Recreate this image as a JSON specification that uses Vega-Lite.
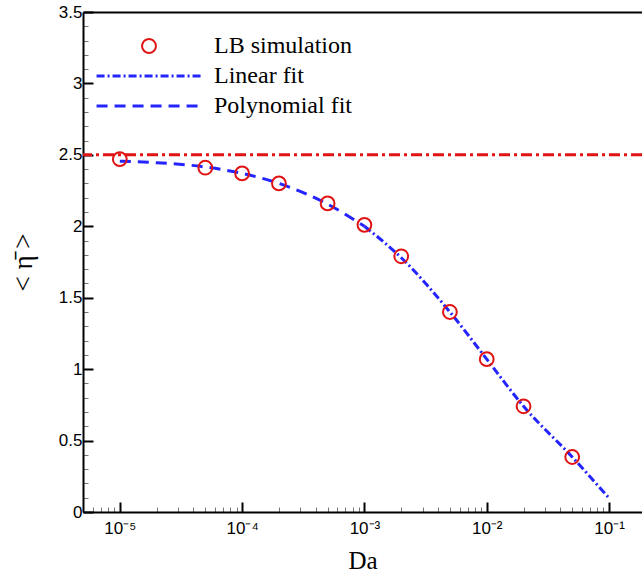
{
  "$schema": "https://vega.github.io/schema/vega-lite/v6.json",
  "autosize": {"type": "none"},
  "padding": {"left": 83, "top": 12, "right": 0, "bottom": 61},
  "width": 559,
  "height": 500,
  "background": "white",
  "config": {"view": {"stroke": null}},
  "datasets": {
    "obs": [
      {"Da": 0.00001, "eta": 2.47, "series": "LB simulation"},
      {"Da": 0.00005, "eta": 2.41, "series": "LB simulation"},
      {"Da": 0.0001, "eta": 2.37, "series": "LB simulation"},
      {"Da": 0.0002, "eta": 2.30, "series": "LB simulation"},
      {"Da": 0.0005, "eta": 2.16, "series": "LB simulation"},
      {"Da": 0.001, "eta": 2.01, "series": "LB simulation"},
      {"Da": 0.002, "eta": 1.79, "series": "LB simulation"},
      {"Da": 0.005, "eta": 1.40, "series": "LB simulation"},
      {"Da": 0.01, "eta": 1.07, "series": "LB simulation"},
      {"Da": 0.02, "eta": 0.74, "series": "LB simulation"},
      {"Da": 0.05, "eta": 0.385, "series": "LB simulation"}
    ],
    "fits": [
      {"Da": 0.00001, "eta": 2.455, "series": "Polynomial fit"},
      {"Da": 0.00002, "eta": 2.445, "series": "Polynomial fit"},
      {"Da": 0.00005, "eta": 2.415, "series": "Polynomial fit"},
      {"Da": 0.0001, "eta": 2.37, "series": "Polynomial fit"},
      {"Da": 0.0002, "eta": 2.30, "series": "Polynomial fit"},
      {"Da": 0.0005, "eta": 2.155, "series": "Polynomial fit"},
      {"Da": 0.001, "eta": 2.0, "series": "Polynomial fit"},
      {"Da": 0.001, "eta": 2.0, "series": "Linear fit"},
      {"Da": 0.002, "eta": 1.78, "series": "Linear fit"},
      {"Da": 0.005, "eta": 1.40, "series": "Linear fit"},
      {"Da": 0.01, "eta": 1.07, "series": "Linear fit"},
      {"Da": 0.02, "eta": 0.74, "series": "Linear fit"},
      {"Da": 0.05, "eta": 0.385, "series": "Linear fit"},
      {"Da": 0.1, "eta": 0.098, "series": "Linear fit"}
    ],
    "limit": [{"eta": 2.5}]
  },
  "encoding": {
    "x": {
      "field": "Da", "type": "quantitative",
      "scale": {"type": "log", "domain": [0.000005, 0.186], "nice": false},
      "axis": {
        "orient": "bottom",
        "title": "Da",
        "titleFont": "Liberation Serif", "titleFontSize": 25, "titleFontWeight": "normal", "titleColor": "black",
        "titleY": 56, "titleBaseline": "alphabetic",
        "values": [0.000006, 0.000007, 0.000008, 0.000009,
                   0.00001, 0.00002, 0.00003, 0.00004, 0.00005, 0.00006, 0.00007, 0.00008, 0.00009,
                   0.0001, 0.0002, 0.0003, 0.0004, 0.0005, 0.0006, 0.0007, 0.0008, 0.0009,
                   0.001, 0.002, 0.003, 0.004, 0.005, 0.006, 0.007, 0.008, 0.009,
                   0.01, 0.02, 0.03, 0.04, 0.05, 0.06, 0.07, 0.08, 0.09, 0.1],
        "labelExpr": "abs(log(datum.value)/LN10 - round(log(datum.value)/LN10)) < 0.000001 ? '10⁻' + ['','¹','²','³','⁴','⁵'][-round(log(datum.value)/LN10)] : ''",
        "labelFont": "Liberation Sans", "labelFontSize": 17, "labelColor": "black", "labelPadding": 18,
        "labelFlush": false, "labelOverlap": false,
        "grid": false,
        "domainColor": "black", "domainWidth": 2,
        "tickSize": {"condition": {"test": "abs(log(datum.value)/LN10 - round(log(datum.value)/LN10)) < 0.000001", "value": -10}, "value": -5},
        "tickColor": {"condition": {"test": "abs(log(datum.value)/LN10 - round(log(datum.value)/LN10)) < 0.000001", "value": "black"}, "value": "#777777"},
        "tickWidth": {"condition": {"test": "abs(log(datum.value)/LN10 - round(log(datum.value)/LN10)) < 0.000001", "value": 2}, "value": 1}
      }
    },
    "y": {
      "field": "eta", "type": "quantitative",
      "scale": {"domain": [0, 3.5], "nice": false},
      "axis": {
        "title": "< η̄ >",
        "titleFont": "Liberation Serif", "titleFontSize": 27, "titleFontWeight": "normal", "titleColor": "black",
        "titleX": -52, "titleBaseline": "alphabetic",
        "values": [0, 0.1, 0.2, 0.3, 0.4, 0.5, 0.6, 0.7, 0.8, 0.9, 1, 1.1, 1.2, 1.3, 1.4, 1.5, 1.6, 1.7, 1.8, 1.9, 2, 2.1, 2.2, 2.3, 2.4, 2.5, 2.6, 2.7, 2.8, 2.9, 3, 3.1, 3.2, 3.3, 3.4, 3.5],
        "labelExpr": "abs(datum.value*2 - round(datum.value*2)) < 0.000001 ? format(datum.value, '~g') : ''",
        "labelFont": "Liberation Sans", "labelFontSize": 17, "labelColor": "black", "labelPadding": 11,
        "labelFlush": false, "labelOverlap": false,
        "grid": false,
        "domainColor": "black", "domainWidth": 2,
        "tickSize": {"condition": {"test": "abs(datum.value*2 - round(datum.value*2)) < 0.000001", "value": -10}, "value": -5},
        "tickColor": {"condition": {"test": "abs(datum.value*2 - round(datum.value*2)) < 0.000001", "value": "black"}, "value": "#777777"},
        "tickWidth": {"condition": {"test": "abs(datum.value*2 - round(datum.value*2)) < 0.000001", "value": 2}, "value": 1}
      }
    }
  },
  "layer": [
    {
      "data": {"name": "limit"},
      "mark": {"type": "rule", "color": "#e01414", "strokeWidth": 3, "strokeDash": [11, 4, 3, 4]},
      "encoding": {"x": null}
    },
    {
      "data": {"name": "fits"},
      "mark": {"type": "line", "strokeWidth": 3, "interpolate": "monotone"},
      "encoding": {
        "x": {
          "field": "Da", "type": "quantitative",
          "scale": {"type": "log", "domain": [0.000005, 0.186], "nice": false},
          "axis": {"orient": "top", "labels": false, "ticks": false, "title": null, "domainColor": "black", "domainWidth": 2, "grid": false}
        },
        "color": {
          "field": "series", "type": "nominal",
          "scale": {"domain": ["LB simulation", "Linear fit", "Polynomial fit"], "range": ["#e01414", "#2424ff", "#2424ff"]},
          "legend": {
            "orient": "none", "legendX": 54, "legendY": 22, "title": null, "padding": 0,
            "symbolType": "stroke", "symbolSize": 11000, "symbolStrokeWidth": 3,
            "labelFont": "Liberation Serif", "labelFontSize": 24, "labelColor": "black", "labelOffset": 53,
            "rowPadding": 6, "labelLimit": 300,
            "encode": {
              "symbols": {
                "update": {
                  "shape": {"signal": "datum.value === 'LB simulation' ? 'circle' : 'stroke'"},
                  "size": {"signal": "datum.value === 'LB simulation' ? 190 : 11000"},
                  "strokeDash": {"signal": "datum.value === 'Linear fit' ? [8, 3, 2, 3] : datum.value === 'Polynomial fit' ? [11, 7] : [1, 0]"},
                  "strokeWidth": {"signal": "datum.value === 'LB simulation' ? 2 : 3"},
                  "fill": {"value": "transparent"},
                  "stroke": {"scale": "color", "field": "value"},
                  "opacity": {"value": 1}
                }
              }
            }
          }
        },
        "strokeDash": {
          "field": "series", "type": "nominal",
          "scale": {"domain": ["Linear fit", "Polynomial fit"], "range": [[8, 3, 2, 3], [11, 7]]},
          "legend": null
        }
      }
    },
    {
      "data": {"name": "obs"},
      "mark": {"type": "point", "shape": "circle", "filled": false, "size": 190, "strokeWidth": 2, "opacity": 1},
      "encoding": {
        "color": {"field": "series", "type": "nominal"}
      }
    }
  ],
  "resolve": {"axis": {"x": "independent"}}
}
